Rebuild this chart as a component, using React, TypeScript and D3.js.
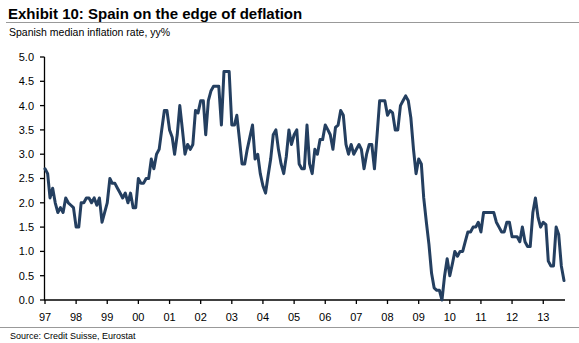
import React from "react";
import * as d3 from "d3";

if (typeof document !== "undefined") {
  document.body.style.margin = "0";
}

const startYear = 1997;
const values: number[] = [
  // 1997
  2.7, 2.6, 2.1, 2.3, 2.0, 1.8, 1.9, 1.8, 2.1, 2.0, 1.95, 1.9,
  // 1998
  1.5, 1.5, 2.0, 2.0, 2.1, 2.1, 2.0, 2.1, 1.95, 2.1, 1.6, 1.8,
  // 1999
  2.0, 2.5, 2.4, 2.4, 2.3, 2.2, 2.1, 2.2, 2.0, 2.2, 1.9, 1.9,
  // 2000
  2.5, 2.4, 2.4, 2.5, 2.5, 2.9, 2.7, 3.0, 3.1, 3.5, 3.9, 3.9,
  // 2001
  3.5, 3.35, 3.0, 3.4, 4.0, 3.5, 3.0, 3.2, 3.1, 3.2, 3.9, 3.85,
  // 2002
  4.1, 4.1, 3.4, 4.1, 4.3, 4.4, 4.4, 4.4, 3.6, 4.7, 4.7, 4.7,
  // 2003
  3.6, 3.6, 3.8, 3.3, 2.8, 2.8, 3.1, 3.35, 3.6, 2.9, 3.0, 2.6,
  // 2004
  2.35, 2.2, 2.55, 2.9, 3.4, 3.5, 3.1, 2.8, 2.6, 2.95, 3.5, 3.2,
  // 2005
  3.4, 3.5, 2.8, 2.7, 2.7, 3.6, 2.8, 2.6, 3.1, 3.0, 3.3, 3.3,
  // 2006
  3.6, 3.5, 3.4, 3.1, 3.55, 3.6, 3.9, 3.8, 3.2, 3.0, 3.2, 3.0,
  // 2007
  3.1, 3.2, 3.1, 2.7, 3.0, 3.2, 3.2, 2.7, 3.4, 4.1, 4.1, 4.1,
  // 2008
  3.8, 3.9, 3.85, 3.5, 3.5, 4.0, 4.1, 4.2, 4.1, 3.75, 3.1, 2.6,
  // 2009
  2.9, 2.8, 2.1, 1.6, 1.15, 0.55, 0.25, 0.2, 0.2, 0.0, 0.5, 0.85,
  // 2010
  0.5, 0.75, 1.0, 0.9, 1.0, 1.0, 1.2, 1.4, 1.4, 1.5, 1.5, 1.6,
  // 2011
  1.4, 1.8, 1.8, 1.8, 1.8, 1.8, 1.6, 1.5, 1.4, 1.4, 1.6, 1.6,
  // 2012
  1.3, 1.3, 1.3, 1.2, 1.5, 1.2, 1.1, 1.1, 1.8, 2.1, 1.7, 1.5,
  // 2013
  1.6, 1.55, 0.8, 0.7, 0.7, 1.5, 1.35, 0.7, 0.4,
];

const yTicks: number[] = [0, 0.5, 1, 1.5, 2, 2.5, 3, 3.5, 4, 4.5, 5];
const xTickYears: number[] = [
  1997, 1998, 1999, 2000, 2001, 2002, 2003, 2004, 2005, 2006, 2007, 2008,
  2009, 2010, 2011, 2012, 2013,
];

const title = "Exhibit 10: Spain on the edge of deflation";
const subtitle = "Spanish median inflation rate, yy%";
const source = "Source: Credit Suisse, Eurostat";

const W = 579;
const H = 343;
const FONT = "'Liberation Sans', Arial, Helvetica, sans-serif";

export default function App() {
  const data = values.map((v, i) => ({
    date: new Date(startYear + Math.floor(i / 12), i % 12, 1),
    v,
  }));

  const x = d3
    .scaleTime()
    .domain([new Date(1997, 0, 1), new Date(2013, 8, 13)])
    .range([45, 565]);
  const y = d3.scaleLinear().domain([0, 5]).range([300, 57]);

  const line = d3
    .line<{ date: Date; v: number }>()
    .x((d) => x(d.date))
    .y((d) => y(d.v));

  const fmt = d3.timeFormat("%y");
  const [x0, x1] = x.range();

  return (
    <svg width={W} height={H} style={{ display: "block" }} fontFamily={FONT}>
      <rect width={W} height={H} fill="#fff" />
      <text x={8} y={18.5} fontSize={15} fontWeight="bold" fill="#000">
        {title}
      </text>
      <line x1={6} x2={W} y1={22.5} y2={22.5} stroke="#999" strokeWidth={1} />
      <text x={9} y={36} fontSize={10.5} fill="#000">
        {subtitle}
      </text>

      {/* Y axis */}
      <line x1={44.5} x2={44.5} y1={y(5)} y2={300} stroke="#000" strokeWidth={1.3} />
      {yTicks.map((t) => (
        <g key={t}>
          <line x1={40} x2={44.5} y1={y(t)} y2={y(t)} stroke="#000" strokeWidth={1.3} />
          <text
            x={34}
            y={y(t)}
            dy="0.36em"
            textAnchor="end"
            fontSize={11}
            fill="#000"
          >
            {t.toFixed(1)}
          </text>
        </g>
      ))}

      {/* X axis */}
      <line x1={x0 - 1} x2={x1} y1={300} y2={300} stroke="#000" strokeWidth={1.3} />
      {xTickYears.map((yr) => {
        const px = x(new Date(yr, 0, 1));
        return (
          <g key={yr}>
            <line x1={px} x2={px} y1={300} y2={304} stroke="#000" strokeWidth={1.3} />
            <text x={px} y={321} textAnchor="middle" fontSize={11} fill="#000">
              {fmt(new Date(yr, 0, 1))}
            </text>
          </g>
        );
      })}

      <path
        d={line(data) || ""}
        fill="none"
        stroke="#243f60"
        strokeWidth={3}
        strokeLinejoin="round"
        strokeLinecap="round"
      />

      <line x1={0} x2={W} y1={327.5} y2={327.5} stroke="#999" strokeWidth={1} />
      <text x={10} y={339} fontSize={9} fill="#000">
        {source}
      </text>
    </svg>
  );
}
